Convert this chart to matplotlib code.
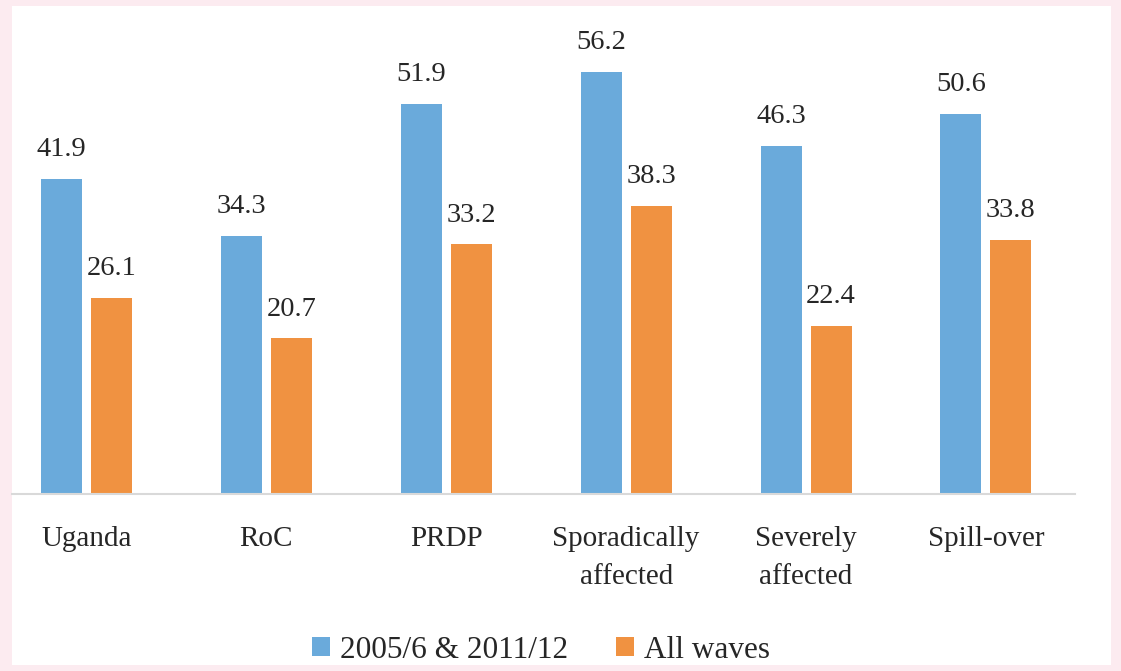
import matplotlib
matplotlib.use("Agg")
import matplotlib.pyplot as plt
from matplotlib.patches import Rectangle, Patch
import numpy as np

categories = ["Uganda", "RoC", "PRDP", "Sporadically\naffected", "Severely\naffected", "Spill-over"]
series_names = ["2005/6 & 2011/12", "All waves"]
values_a = [41.9, 34.3, 51.9, 56.2, 46.3, 50.6]
values_b = [26.1, 20.7, 33.2, 38.3, 22.4, 33.8]
colors = ["#6AAADB", "#F09241"]

W, H = 1121, 671
fig = plt.figure(figsize=(W / 100, H / 100), dpi=100)
fig.patch.set_facecolor("#FCEBF0")
fig.patches.append(Rectangle((12 / W, 6 / H), (1111 - 12) / W, (665 - 6) / H,
                             transform=fig.transFigure, facecolor="white",
                             edgecolor="none", zorder=-10))

font = "Liberation Serif"
fs = 20.5

ax = fig.add_axes([12 / W, (H - 494) / H, (1075 - 12) / W, (494 - 10) / H])
ax.set_facecolor("none")
x = np.arange(len(categories))
bw = 0.228
off = 0.139
b1 = ax.bar(x - off, values_a, bw, color=colors[0], zorder=2)
b2 = ax.bar(x + off, values_b, bw, color=colors[1], zorder=2)

ax.set_xlim(-0.414, 5.495)
ax.set_ylim(0, 64.4)

for bars, vals in ((b1, values_a), (b2, values_b)):
    for rect, v in zip(bars, vals):
        ax.annotate(f"{v:.1f}", (rect.get_x() + rect.get_width() / 2, v),
                    xytext=(0, 16.5), textcoords="offset points",
                    ha="center", va="baseline", fontsize=fs, family=font,
                    color="#262626", annotation_clip=False)

for s in ["top", "right", "left"]:
    ax.spines[s].set_visible(False)
ax.spines["bottom"].set_color("#D9D9D9")
ax.spines["bottom"].set_linewidth(1.5)
ax.set_yticks([])
ax.set_xticks(x)
ax.set_xticklabels(categories, fontsize=21, family=font, color="#262626",
                   linespacing=1.6)
ax.tick_params(axis="x", length=0, pad=23)

handles = [Patch(facecolor=c, edgecolor="none") for c in colors]
fig.legend(handles, series_names, loc="center", bbox_to_anchor=(541 / W, (H - 650) / H),
           ncol=2, frameon=False, prop={"family": font, "size": 22.5},
           handlelength=0.58, handleheight=0.58, handletextpad=0.3,
           columnspacing=1.55, labelcolor="#262626")

fig.savefig("out.png", dpi=100)
